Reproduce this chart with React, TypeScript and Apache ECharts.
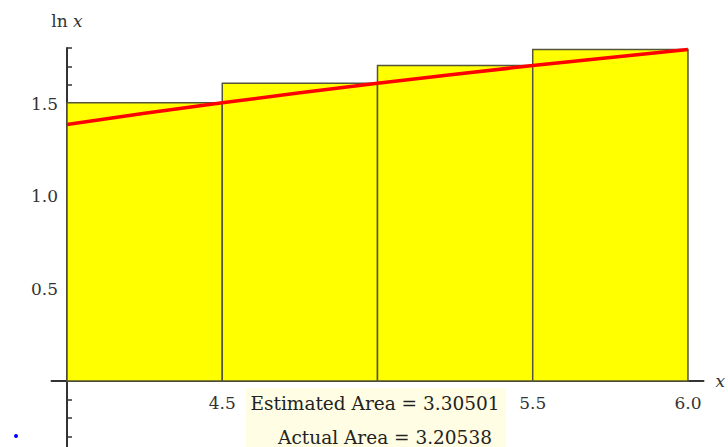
import React, { useEffect, useRef } from "react";
import * as echarts from "echarts";

// Riemann sum rectangles (right endpoints of ln x on [4, 6], n = 4)
const rectLeft = [4.0, 4.5, 5.0, 5.5];
const rectRight = [4.5, 5.0, 5.5, 6.0];
const rectHeight = [1.504, 1.609, 1.705, 1.792];

// ln x curve
const curveX = [4.0, 4.25, 4.5, 4.75, 5.0, 5.25, 5.5, 5.75, 6.0];
const curveY = [1.386, 1.447, 1.504, 1.558, 1.609, 1.658, 1.705, 1.749, 1.792];

// Tick labels (5.0 is hidden behind the annotation box in the reference)
const xTickLabels = ["4.5", "5.5", "6.0"];
const yTickLabels = ["0.5", "1.0", "1.5"];

// Annotation
const estimatedText = "Estimated Area = 3.30501";
const actualText = "Actual Area = 3.20538";

const FONT = "'DejaVu Serif', serif";

function pickLabel(v: number, list: string[]): string {
  const s = v.toFixed(1);
  if (Math.abs(v - parseFloat(s)) > 1e-6) return "";
  return list.includes(s) ? s : "";
}

export default function App() {
  const ref = useRef<HTMLDivElement>(null);

  useEffect(() => {
    if (!ref.current) return;
    const chart = echarts.init(ref.current, null, { renderer: "svg" });

    const rectData = rectLeft.map((l, i) => [l, rectRight[i], rectHeight[i]]);
    const curveData = curveX.map((x, i) => [x, curveY[i]]);

    chart.setOption({
      animation: false,
      backgroundColor: "#ffffff",
      grid: {
        left: 51.5,
        top: 48,
        width: 652,
        height: 407,
        containLabel: false,
        outerBoundsMode: "none",
      },
      xAxis: {
        type: "value",
        min: 3.95,
        max: 6.05,
        interval: 0.05,
        offset: -74,
        name: "x",
        nameLocation: "end",
        nameGap: 12,
        nameTextStyle: {
          fontFamily: FONT,
          fontStyle: "italic",
          fontSize: 17,
          color: "#333",
          padding: [4, 0, 0, 0],
        },
        axisLine: { onZero: false, lineStyle: { color: "#333", width: 2 } },
        axisTick: { show: false },
        splitLine: { show: false },
        axisLabel: {
          margin: 13,
          fontFamily: FONT,
          fontSize: 17,
          color: "#333",
          formatter: (v: number) => pickLabel(v, xTickLabels),
        },
      },
      yAxis: {
        type: "value",
        min: -0.4,
        max: 1.8,
        interval: 0.1,
        offset: -15.5,
        name: "{n|ln }{v|x}",
        nameLocation: "end",
        nameGap: 19,
        nameTextStyle: {
          rich: {
            n: { fontFamily: FONT, fontSize: 17, color: "#333" },
            v: { fontFamily: FONT, fontSize: 17, fontStyle: "italic", color: "#333" },
          },
        },
        axisLine: { show: true, onZero: false, lineStyle: { color: "#333", width: 2 } },
        axisTick: { show: true, inside: true, length: 5, lineStyle: { color: "#333", width: 1.5 } },
        splitLine: { show: false },
        axisLabel: {
          margin: 9,
          fontFamily: FONT,
          fontSize: 17,
          color: "#333",
          formatter: (v: number) => pickLabel(v, yTickLabels),
        },
      },
      series: [
        {
          type: "custom",
          z: 3,
          data: rectData,
          encode: { x: [0, 1], y: 2 },
          renderItem: (params: any, api: any) => {
            const x0 = api.value(0);
            const x1 = api.value(1);
            const h = api.value(2);
            const p0 = api.coord([x0, h]);
            const p1 = api.coord([x1, 0]);
            return {
              type: "rect",
              shape: { x: p0[0], y: p0[1], width: p1[0] - p0[0], height: p1[1] - p0[1] },
              style: { fill: "#ffff00", stroke: "#55553a", lineWidth: 1.5 },
            };
          },
        },
        {
          type: "line",
          z: 5,
          data: curveData,
          symbol: "none",
          smooth: false,
          lineStyle: { color: "#ff0000", width: 3.5 },
        },
      ],
      graphic: [
        {
          type: "rect",
          z: 100,
          shape: { x: 246, y: 388, width: 260, height: 70 },
          style: { fill: "#fffde3" },
        },
        {
          type: "text",
          z: 101,
          x: 375,
          y: 403,
          style: {
            text: estimatedText,
            fontFamily: FONT,
            fontSize: 18.5,
            fill: "#222",
            align: "center",
            verticalAlign: "middle",
          },
        },
        {
          type: "text",
          z: 101,
          x: 385,
          y: 437,
          style: {
            text: actualText,
            fontFamily: FONT,
            fontSize: 18.5,
            fill: "#222",
            align: "center",
            verticalAlign: "middle",
          },
        },
        {
          type: "circle",
          z: 101,
          shape: { cx: 16, cy: 436, r: 2 },
          style: { fill: "#0000ff" },
        },
      ],
    });

    return () => chart.dispose();
  }, []);

  return (
    <div
      ref={ref}
      style={{ position: "fixed", left: 0, top: 0, width: 728, height: 447 }}
    />
  );
}
